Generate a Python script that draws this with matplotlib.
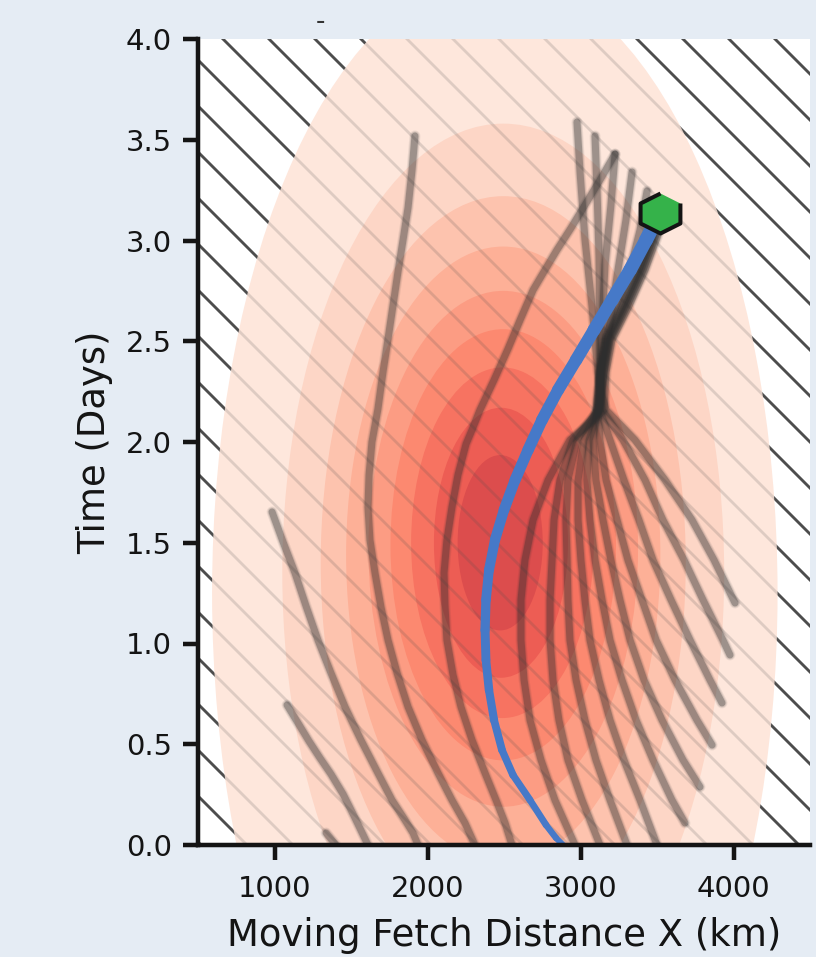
import numpy as np
import matplotlib
matplotlib.use("Agg")
import matplotlib.pyplot as plt
from matplotlib.collections import LineCollection
from matplotlib.patches import Rectangle, Ellipse
from matplotlib.colors import to_rgba

DPI = 276          # hatch tile is one inch, this gives the wide diagonal spacing
PX = 72 / DPI      # points per output pixel

X_LIM = (500, 4500)
T_LIM = (0.0, 4.0)
X_TICKS = [1000, 2000, 3000, 4000]
T_TICKS = [0.0, 0.5, 1.0, 1.5, 2.0, 2.5, 3.0, 3.5, 4.0]

# density bands, outermost first
BAND_CENTER_X_KM = [2440, 2495, 2495, 2495, 2495, 2495, 2490, 2480, 2475]
BAND_CENTER_T = [1.25, 1.35, 1.40, 1.44, 1.47, 1.49, 1.50, 1.50, 1.50]
BAND_SEMI_X_KM = [1848, 1444, 1193, 1027, 881, 737, 597, 438, 278]
BAND_SEMI_T = [3.07, 2.23, 1.82, 1.53, 1.28, 1.07, 0.87, 0.67, 0.435]

# grey rays, x in km, t in days
ray_a_x = [984, 1056, 1134, 1206, 1284, 1369, 1461, 1565, 1676, 1768, 1853, 1905, 1938]
ray_a_t = [1.653, 1.504, 1.350, 1.186, 1.017, 0.854, 0.685, 0.521, 0.357, 0.223, 0.124, 0.060, 0.0]
ray_b_x = [1082, 1154, 1225, 1297, 1369, 1448, 1520, 1611]
ray_b_t = [0.695, 0.605, 0.516, 0.432, 0.352, 0.253, 0.144, 0.0]
ray_c_x = [1337, 1402]
ray_c_t = [0.060, 0.0]
ray_d_x = [1918, 1899, 1873, 1840, 1807, 1775, 1742, 1709, 1676, 1637, 1618, 1611,
           1624, 1657, 1696, 1742, 1801, 1873, 1964, 2069, 2160, 2245, 2310]
ray_d_t = [3.519, 3.350, 3.164, 3.002, 2.844, 2.680, 2.511, 2.347, 2.164, 2.000, 1.836, 1.677,
           1.514, 1.350, 1.181, 1.017, 0.854, 0.685, 0.521, 0.357, 0.223, 0.109, 0.0]
ray_e_x = [3226, 3127, 3029, 2938, 2846, 2768, 2690, 2605, 2526, 2435, 2343, 2291, 2252,
           2199, 2160, 2127, 2108, 2114, 2127, 2167, 2219, 2291, 2376, 2448, 2507, 2552]
ray_e_t = [3.429, 3.300, 3.176, 3.062, 2.953, 2.854, 2.754, 2.605, 2.462, 2.308, 2.159, 2.060, 1.990,
           1.836, 1.677, 1.514, 1.350, 1.191, 1.017, 0.844, 0.685, 0.521, 0.357, 0.223, 0.109, 0.0]

# rays squeezed through the waist near 3100 km / 2.1 days
ray_f1_x = [2977, 2997, 3029, 3075, 3114, 3134, 3167, 3356, 3553, 3729, 3873, 4010]
ray_f1_t = [3.588, 3.340, 3.007, 2.675, 2.347, 2.248, 2.159, 2.010, 1.811, 1.613, 1.414, 1.201]
ray_f2_x = [3095, 3108, 3121, 3127, 3127, 3141, 3278, 3422, 3539, 3677, 3801, 3931, 3977]
ray_f2_t = [3.519, 3.251, 2.923, 2.596, 2.308, 2.159, 2.010, 1.811, 1.613, 1.414, 1.216, 1.017, 0.943]
ray_f3_x = [3226, 3199, 3160, 3141, 3127, 3127, 3193, 3284, 3382, 3474, 3592, 3716, 3846, 3925]
ray_f3_t = [3.429, 3.176, 2.878, 2.581, 2.308, 2.159, 2.010, 1.811, 1.613, 1.414, 1.216, 1.017, 0.819, 0.705]
ray_f4_x = [3337, 3297, 3245, 3193, 3147, 3114, 3127, 3167, 3239, 3310, 3402, 3494, 3618, 3761, 3860]
ray_f4_t = [3.340, 3.102, 2.854, 2.596, 2.308, 2.159, 2.010, 1.811, 1.613, 1.414, 1.216, 1.017, 0.819, 0.620, 0.496]
ray_f5_x = [3435, 3389, 3324, 3232, 3160, 3127, 3108, 3101, 3082, 3101, 3147, 3199, 3258, 3324,
            3415, 3533, 3670, 3781]
ray_f5_t = [3.246, 3.052, 2.854, 2.675, 2.506, 2.347, 2.208, 2.109, 2.010, 1.811, 1.613, 1.414,
            1.216, 1.017, 0.819, 0.620, 0.422, 0.288]
ray_f6_x = [3468, 3435, 3369, 3265, 3167, 3127, 3114, 3056, 3042, 3062, 3095, 3141, 3193, 3271,
            3363, 3474, 3598, 3683]
ray_f6_t = [3.201, 3.002, 2.854, 2.675, 2.506, 2.347, 2.149, 2.010, 1.811, 1.613, 1.414, 1.216,
            1.017, 0.819, 0.620, 0.422, 0.223, 0.109]
ray_f7_x = [3494, 3454, 3382, 3278, 3173, 3134, 3108, 3023, 2984, 2984, 3003, 3029, 3062, 3121,
            3193, 3284, 3389, 3500]
ray_f7_t = [3.166, 3.002, 2.854, 2.675, 2.506, 2.347, 2.159, 2.010, 1.811, 1.613, 1.414, 1.216,
            1.017, 0.819, 0.620, 0.422, 0.223, 0.0]
ray_f8_x = [3520, 3468, 3395, 3291, 3186, 3141, 3114, 2977, 2918, 2905, 2912, 2918, 2931, 2971,
            3029, 3101, 3193, 3304]
ray_f8_t = [3.136, 3.002, 2.854, 2.675, 2.506, 2.347, 2.159, 2.010, 1.811, 1.613, 1.414, 1.216,
            1.017, 0.819, 0.620, 0.422, 0.223, 0.0]
ray_f9_x = [3533, 3481, 3409, 3304, 3193, 3154, 3127, 2951, 2866, 2827, 2814, 2801, 2801, 2820,
            2859, 2918, 3010, 3127]
ray_f9_t = [3.122, 3.002, 2.854, 2.675, 2.506, 2.347, 2.159, 2.010, 1.811, 1.613, 1.414, 1.216,
            1.017, 0.819, 0.620, 0.422, 0.223, 0.0]
ray_f10_x = [3546, 3494, 3422, 3317, 3206, 3167, 3154, 3049, 2931, 2788, 2690, 2637, 2611, 2611,
             2631, 2670, 2742, 2833, 2964]
ray_f10_t = [3.112, 3.002, 2.854, 2.675, 2.506, 2.347, 2.159, 2.084, 2.010, 1.811, 1.613, 1.414,
             1.216, 1.017, 0.819, 0.620, 0.422, 0.223, 0.0]

# highlighted (blue) track, from the end marker down to t = 0
track_x = [3517, 3428, 3324, 3206, 3088, 2971, 2853, 2748, 2657, 2572, 2500, 2441,
           2402, 2382, 2376, 2382, 2402, 2435, 2487, 2559, 2670, 2775, 2840, 2886]
track_t = [3.137, 3.002, 2.854, 2.705, 2.556, 2.407, 2.258, 2.109, 1.960, 1.811, 1.663, 1.514,
           1.365, 1.216, 1.067, 0.918, 0.769, 0.620, 0.471, 0.347, 0.223, 0.099, 0.035, 0.0]
end_x, end_t = 3517, 3.137

rays = [
    (ray_a_x, ray_a_t), (ray_b_x, ray_b_t), (ray_c_x, ray_c_t),
    (ray_d_x, ray_d_t), (ray_e_x, ray_e_t),
    (ray_f1_x, ray_f1_t), (ray_f2_x, ray_f2_t), (ray_f3_x, ray_f3_t),
    (ray_f4_x, ray_f4_t), (ray_f5_x, ray_f5_t), (ray_f6_x, ray_f6_t),
    (ray_f7_x, ray_f7_t), (ray_f8_x, ray_f8_t), (ray_f9_x, ray_f9_t),
    (ray_f10_x, ray_f10_t),
]

plt.rcParams["hatch.linewidth"] = 2.8 * PX
INK = "#141414"
HATCH = "#4d4d4d"

fig = plt.figure(figsize=(816 / DPI, 957 / DPI), dpi=DPI)
fig.patch.set_facecolor("#e5ecf4")
ax = fig.add_axes([198 / 816, 112 / 957, 612 / 816, 806 / 957])
ax.set_xlim(*X_LIM)
ax.set_ylim(*T_LIM)

# hatched background
ax.add_patch(Rectangle((0, 0), 1, 1, transform=ax.transAxes, facecolor="white",
                       edgecolor=HATCH, hatch="\\\\", lw=0, zorder=0))

# bands: Reds at 80 % over white, hatch shows faintly through them
vals = np.linspace(0.12, 0.72, len(BAND_SEMI_X_KM))
for cx, ct, sx, st, v in zip(BAND_CENTER_X_KM, BAND_CENTER_T, BAND_SEMI_X_KM,
                             BAND_SEMI_T, vals):
    c = 0.8 * np.array(plt.cm.Reds(v)[:3]) + 0.2
    ax.add_patch(Ellipse((cx, ct), 2 * sx, 2 * st, facecolor=c, lw=0, zorder=1))
ax.add_patch(Rectangle((0, 0), 1, 1, transform=ax.transAxes, facecolor="none",
                       edgecolor=to_rgba(HATCH, 0.18), hatch="\\\\", lw=0, zorder=1.5))

# soft grey rays: a few stacked translucent strokes
for xs, ts in rays:
    for lw, a in [(11, 0.08), (9, 0.14), (7, 0.32)]:
        ax.plot(xs, ts, color="#2e2e2e", lw=lw * PX, alpha=a,
                solid_capstyle="round", solid_joinstyle="round", zorder=2)

pts = np.column_stack([track_x, track_t])
segs = np.stack([pts[:-1], pts[1:]], axis=1)
widths = np.linspace(14, 6, len(segs)) * PX
ax.add_collection(LineCollection(segs, linewidths=widths, colors="#4679c8",
                                 capstyle="round", joinstyle="round", zorder=3))

ang = np.deg2rad(90 + 60 * np.arange(6))
hex_verts = list(zip(1.15 * np.cos(ang), np.sin(ang)))
ax.plot([end_x], [end_t], ls="none", marker=hex_verts, ms=40 * PX,
        mfc="#35b24a", mec=INK, mew=4 * PX, zorder=5)

for side in ("top", "right"):
    ax.spines[side].set_visible(False)
for side in ("left", "bottom"):
    ax.spines[side].set_linewidth(4.5 * PX)
    ax.spines[side].set_color(INK)
    ax.spines[side].set_zorder(6)

ax.set_xticks(X_TICKS)
ax.set_yticks(T_TICKS)
ax.set_yticklabels([f"{v:.1f}" for v in T_TICKS])
ax.tick_params(direction="out", length=15 * PX, width=4.5 * PX, pad=11 * PX,
               labelsize=29 * PX, color=INK, labelcolor=INK)
ax.tick_params(axis="x", pad=15 * PX)
ax.set_xlabel("Moving Fetch Distance X (km)", fontsize=37 * PX, color=INK,
              labelpad=14 * PX)
ax.set_ylabel("Time (Days)", fontsize=37 * PX, color=INK, labelpad=13 * PX)

fig.text(320 / 816, 1 - 22 / 957, "-", fontsize=26 * PX, ha="center",
         va="center", color="#333333")

fig.savefig("out.png", dpi=DPI, facecolor=fig.get_facecolor())
